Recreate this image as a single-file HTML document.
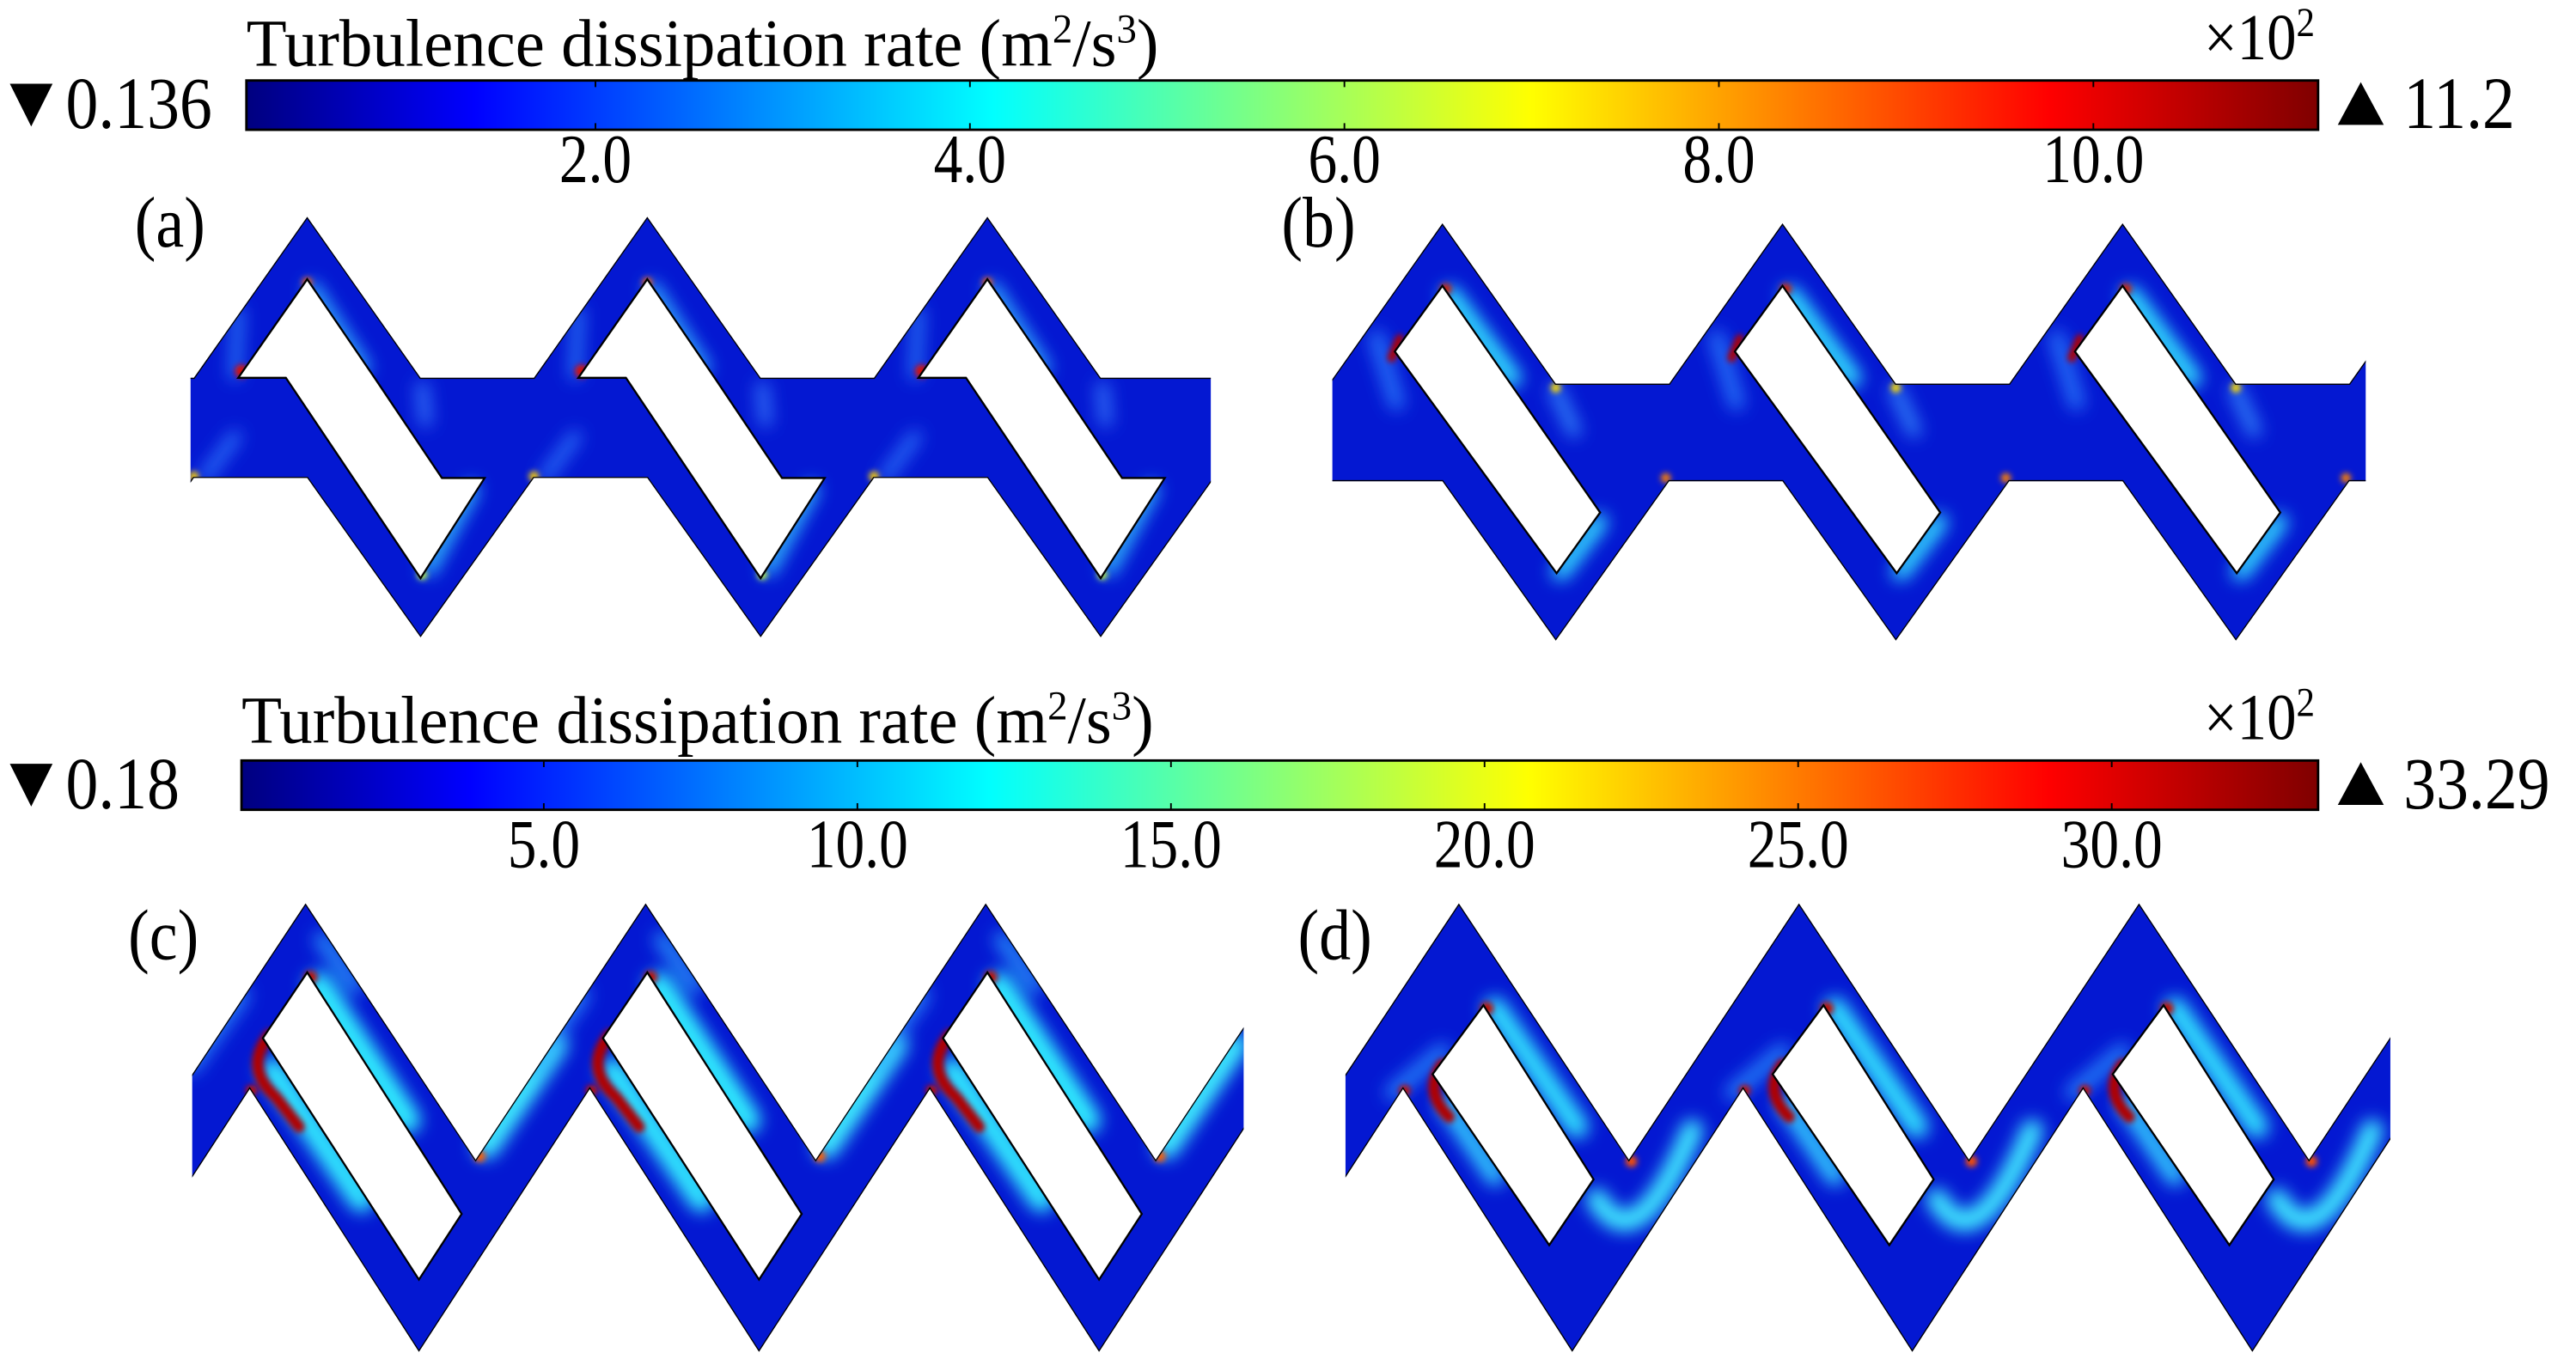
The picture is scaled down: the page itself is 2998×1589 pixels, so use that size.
<!DOCTYPE html>
<html><head><meta charset="utf-8">
<style>
html,body{margin:0;padding:0;background:#fff;}
svg{display:block;}
text{font-family:"Liberation Serif",serif;fill:#000;}
</style></head>
<body>
<svg id="fig" width="2998" height="1589" viewBox="0 0 1568 831" preserveAspectRatio="none" xmlns="http://www.w3.org/2000/svg">
<defs>
<linearGradient id="jet" x1="0" x2="1" y1="0" y2="0">
<stop offset="0" stop-color="#00007f"/><stop offset="0.11" stop-color="#0000ff"/>
<stop offset="0.36" stop-color="#00ffff"/><stop offset="0.62" stop-color="#ffff00"/>
<stop offset="0.87" stop-color="#ff0000"/><stop offset="1" stop-color="#7f0000"/>
</linearGradient>
<filter id="blur4" x="-50%" y="-50%" width="200%" height="200%"><feGaussianBlur stdDeviation="5"/></filter>
<filter id="blur2" x="-50%" y="-50%" width="200%" height="200%"><feGaussianBlur stdDeviation="1.8"/></filter>
</defs>
<g id="cbars"></g>
<g id="panels"></g>
</svg>
<script>
// ---- colorbar data ----
const cb1Ticks = [2.0, 4.0, 6.0, 8.0, 10.0];
const cb1TickLabels = ["2.0", "4.0", "6.0", "8.0", "10.0"];
const cb1Range = [0.136, 11.2];
const cb1MinMaxLabels = ["0.136", "11.2"];
const cb2Ticks = [5.0, 10.0, 15.0, 20.0, 25.0, 30.0];
const cb2TickLabels = ["5.0", "10.0", "15.0", "20.0", "25.0", "30.0"];
const cb2Range = [0.18, 33.29];
const cb2MinMaxLabels = ["0.18", "33.29"];
// ---- panel geometry data (peak positions of each channel) ----
const peaksA = [187, 394, 601];
const peaksB = [878, 1085, 1292];
const peaksC = [186, 393, 600];
const peaksD = [888, 1095, 1302];

const NS = "http://www.w3.org/2000/svg";
const svg = document.getElementById('fig');
function mk(tag, attrs, parent){
  const e = document.createElementNS(NS, tag);
  for (const k in attrs) e.setAttribute(k, attrs[k]);
  parent.appendChild(e); return e;
}
function txt(str, x, y, size, parent, anchor, sx){
  const t = mk('text', {x:0, y:0, 'font-size':size, 'text-anchor':anchor||'start',
    transform:`translate(${x},${y}) scale(${sx||1},1)`}, parent);
  t.textContent = str; return t;
}

function colorbar(g, x0, x1, y0, y1, range, ticks, labels, mm, titleY, labY){
  const sx = v => x0 + (v - range[0]) / (range[1] - range[0]) * (x1 - x0);
  const t = txt('', x0, titleY, 41, g, 'start', 0.98);
  
  
  t.innerHTML = 'Turbulence dissipation rate (m<tspan dy="-14" font-size="25">2</tspan><tspan dy="14">/s</tspan><tspan dy="-14" font-size="25">3</tspan><tspan dy="14">)</tspan>';
  const r = mk('rect', {x:x0, y:y0, width:x1-x0, height:y1-y0, fill:'url(#jet)', stroke:'#000', 'stroke-width':1.5}, g);
  
  
  ticks.forEach((v, i) => {
    const x = sx(v);
    const tk = mk('path', {d:`M${x},${y0}v4M${x},${y1}v-4`, stroke:'#000', 'stroke-width':1}, g);
    
    
    const l = txt(labels[i], x, labY, 42, g, 'middle', 0.84);
    
    
  });
  const ex = txt('', x1 - 2, y0 - 13, 40, g, 'end', 0.9);
  
  
  ex.innerHTML = '×10<tspan dy="-14" font-size="25">2</tspan>';
  const cy = (y0 + y1) / 2;
  const dn = mk('path', {d:`M6,${cy-13}h26l-13,26z`, fill:'#000'}, g);
  
  
  const mn = txt(mm[0], 40, cy + 14, 45, g, 'start', 0.88);
  
  
  const up = mk('path', {d:`M${x1+12},${cy+12}h28l-14,-26z`, fill:'#000'}, g);
  
  
  const mx = txt(mm[1], x1 + 52, cy + 14, 45, g, 'start', 0.88);
  
  
}
const cbg = document.getElementById('cbars');
colorbar(cbg, 150, 1411, 49, 79, cb1Range, cb1Ticks, cb1TickLabels, cb1MinMaxLabels, 40, 111);
colorbar(cbg, 147, 1411, 463, 493, cb2Range, cb2Ticks, cb2TickLabels, cb2MinMaxLabels, 452, 528);

const pg = document.getElementById('panels');
let clipId = 0;
const P = 207;
function poly(pts){ return 'M' + pts.map(p => p[0].toFixed(1) + ',' + p[1].toFixed(1)).join('L') + 'Z'; }

function panel(name, label, lx, ly, x0, x1, outerPath, holes, hot){
  const g = mk('g', {}, pg);
  
  
  const l = txt(label, lx, ly, 44, g, 'start', 0.88);
  
  
  const id = 'cp' + (clipId++);
  const cp = mk('clipPath', {id:id}, g);
  mk('rect', {x:x0, y:0, width:x1-x0, height:831}, cp);
  const id2 = 'cq' + (clipId++);
  const cq = mk('clipPath', {id:id2}, g);
  mk('path', {d:outerPath}, cq);
  const gc = mk('g', {'clip-path':`url(#${id})`}, g);
  const gi = mk('g', {'clip-path':`url(#${id2})`}, gc);
  const ch = mk('path', {d:outerPath, fill:'#0418d2'}, gi);
  
  
  const hg = mk('g', {filter:'url(#blur4)'}, gi);
  hot.forEach(h => {
    if (h.t === 'l') mk('path', {d:h.d, stroke:h.c, 'stroke-width':h.w, fill:'none', 'stroke-linecap':'round', opacity:h.o||1}, hg);
  });
  const hg2 = mk('g', {filter:'url(#blur2)'}, gi);
  hot.forEach(h => {
    if (h.t === 'c') mk('circle', {cx:h.x, cy:h.y, r:h.r, fill:h.c}, hg2);
    if (h.t === 'k') mk('path', {d:h.d, stroke:h.c, 'stroke-width':h.w, fill:'none', 'stroke-linecap':'round'}, hg2);
  });
  mk('path', {d:outerPath, fill:'none', stroke:'#000', 'stroke-width':1.4}, gi);
  holes.forEach(hp => {
    const h = mk('path', {d:hp, fill:'#fff', stroke:'#000', 'stroke-width':1.2}, gc);
    
    
  });
}

function bandOuter(peaks, pY, bT, bB, tY, hw){
  const top = [], bot = [];
  const all = [peaks[0] - P].concat(peaks, [peaks[peaks.length-1] + P]);
  all.forEach(p => { top.push([p - hw, bT], [p, pY], [p + hw, bT]); });
  top.unshift([all[0] - 300, bT]); top.push([all[all.length-1] + 300, bT]);
  all.forEach(p => { bot.push([p, bB], [p + hw, tY], [p + 2*hw, bB]); });
  bot.unshift([all[0] - 300, bB]); bot.push([all[all.length-1] + 300, bB]);
  return poly(top.concat(bot.reverse()));
}
function zigOuter(peaks, pY, uT, lP, lT, lOff, lTOff){
  const top = [], bot = [];
  const all = [peaks[0] - P].concat(peaks, [peaks[peaks.length-1] + P]);
  all.forEach(p => { top.push([p, pY], [p + P/2, uT]); });
  all.forEach(p => { bot.push([p + lOff, lP], [p + lTOff, lT]); });
  return poly(top.concat(bot.reverse()));
}

// Panel (a)
{
  const pY = 132, hot = [], holes = [];
  peaksA.forEach(p => {
    holes.push(poly([[p,170],[p+41,230],[p+82,291],[p+108,291],[p+69,352],[p-13,230],[p-42,230]]));
    hot.push({t:'l', d:`M${p+3},${pY+44}L${p+34},${pY+92}`, c:'#30b0ff', w:9});
    hot.push({t:'l', d:`M${p+100},${298}L${p+74},${346}`, c:'#30c0ff', w:9});
    hot.push({t:'l', d:`M${p+70},${236}L${p+72},${256}`, c:'#3a80ff', w:8, o:0.8});
    hot.push({t:'l', d:`M${p-62},${290}L${p-44},${266}`, c:'#2f7cff', w:8, o:0.8});
    hot.push({t:'l', d:`M${p-44},${228}L${p-42},${190}`, c:'#2f8cff', w:7, o:0.8});
    hot.push({t:'c', x:p-40, y:226, r:4, c:'#e01000'});
    hot.push({t:'c', x:p, y:172, r:3, c:'#ff6000'});
    hot.push({t:'c', x:p+70, y:350, r:3, c:'#c0ff40'});
    hot.push({t:'c', x:p-69, y:290, r:3, c:'#ffd000'});
  });
  panel('panel-a', '(a)', 82, 150, 116, 737, bandOuter(peaksA, pY, 230, 291, 388, 69), holes, hot);
}
// Panel (b)
{
  const pY = 136, hot = [], holes = [];
  peaksB.forEach(p => {
    holes.push(poly([[p,174],[p-29,214],[p+69.5,349],[p+96,312]]));
    hot.push({t:'l', d:`M${p+5},${180}L${p+42},${230}`, c:'#30e0ff', w:12});
    hot.push({t:'l', d:`M${p+95},${318}L${p+72},${348}`, c:'#30d8ff', w:11});
    hot.push({t:'l', d:`M${p-40},${206}L${p-28},${245}`, c:'#2a80ff', w:10, o:0.8});
    hot.push({t:'l', d:`M${p+69},${238}L${p+80},${262}`, c:'#3a90ff', w:9, o:0.8});
    hot.push({t:'k', d:`M${p-26},${206}L${p-31},${218}`, c:'#b00000', w:5});
    hot.push({t:'c', x:p+2, y:176, r:3.5, c:'#d02000'});
    hot.push({t:'c', x:p+69, y:236, r:3, c:'#ffe000'});
    hot.push({t:'c', x:p+136, y:291, r:3, c:'#ff8000'});
  });
  panel('panel-b', '(b)', 780, 150, 811, 1440, bandOuter(peaksB, pY, 233.6, 293, 390, 69), holes, hot);
}
// Panel (c)
{
  const hot = [], holes = [];
  peaksC.forEach(p => {
    holes.push(poly([[p+1,592],[p-26,632],[p+69,779],[p+95,739]]));
    hot.push({t:'l', d:`M${p+8},${600}L${p+62},${682}`, c:'#30f0ff', w:16});
    hot.push({t:'l', d:`M${p-20},${652}L${p+34},${730}`, c:'#30e8ff', w:16});
    hot.push({t:'l', d:`M${p+110},${698}L${p+152},${636}`, c:'#40f0ff', w:15});
    hot.push({t:'l', d:`M${p-70},${648}L${p-40},${606}`, c:'#2a90ff', w:12, o:0.8});
    hot.push({t:'l', d:`M${p+10},${572}L${p+30},${600}`, c:'#2aa0ff', w:10, o:0.8});
    hot.push({t:'k', d:`M${p-22},${630}Q${p-38},${650} ${p-18},${668}L${p-4},${686}`, c:'#b00000', w:7});
    hot.push({t:'c', x:p+3, y:595, r:4, c:'#c01000'});
    hot.push({t:'c', x:p-33, y:664, r:3.5, c:'#c01000'});
    hot.push({t:'c', x:p+106, y:704, r:3.5, c:'#ff6000'});
  });
  panel('panel-c', '(c)', 78, 584, 117, 757, zigOuter(peaksC, 550, 706, 663, 823, -34, 69), holes, hot);
}
// Panel (d)
{
  const hot = [], holes = [];
  peaksD.forEach(p => {
    holes.push(poly([[p+15,612],[p-16,654],[p+55,758],[p+82,718]]));
    hot.push({t:'l', d:`M${p+22},${614}L${p+72},${686}`, c:'#30e0ff', w:14});
    hot.push({t:'l', d:`M${p-8},${672}L${p+22},${716}`, c:'#30c8ff', w:12});
    hot.push({t:'l', d:`M${p+84},${730}Q${p+108},${770} ${p+142},${688}`, c:'#40e8ff', w:13});
    hot.push({t:'l', d:`M${p-40},${665}L${p-10},${640}`, c:'#2a90ff', w:10, o:0.8});
    hot.push({t:'k', d:`M${p-10},${648}Q${p-22},${664} ${p-6},${680}`, c:'#b00000', w:7});
    hot.push({t:'c', x:p+17, y:614, r:4, c:'#c01000'});
    hot.push({t:'c', x:p-33, y:664, r:3.5, c:'#c01000'});
    hot.push({t:'c', x:p+105, y:707, r:3.5, c:'#ff5000'});
  });
  panel('panel-d', '(d)', 790, 584, 819, 1455, zigOuter(peaksD, 550, 706, 663, 823, -34, 69), holes, hot);
}
</script>
</body></html>
